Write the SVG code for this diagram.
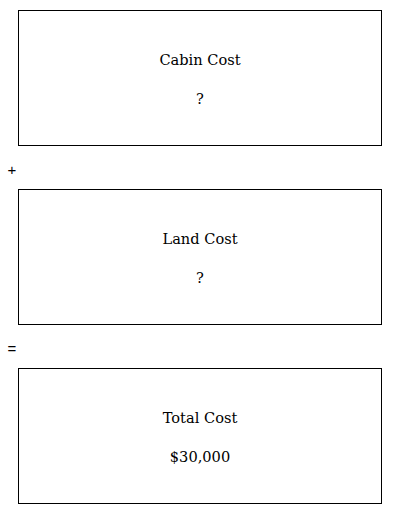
<svg xmlns="http://www.w3.org/2000/svg" width="400" height="514" viewBox="0 0 400 514">
<style>
.box{fill:#fff;stroke:#000;stroke-width:1}
.t{font-family:"DejaVu Serif","Liberation Serif",serif;font-size:14.6px;fill:#000;text-anchor:middle}
.op{font-family:"Liberation Sans","DejaVu Sans",sans-serif;font-size:15px;fill:#000;text-anchor:middle}
</style>
<rect width="400" height="514" fill="#fff"/>
<g id="cabin">
<rect class="box" x="18.5" y="10.5" width="363" height="135"/>
<text class="t" x="200" y="65">Cabin Cost</text>
<text class="t" x="200" y="104">?</text>
</g>
<g id="plus"><text class="op" x="12" y="175">+</text></g>
<g id="land">
<rect class="box" x="18.5" y="189.5" width="363" height="135"/>
<text class="t" x="200" y="244">Land Cost</text>
<text class="t" x="200" y="283">?</text>
</g>
<g id="equals"><text class="op" x="12" y="354">=</text></g>
<g id="total">
<rect class="box" x="18.5" y="368.5" width="363" height="135"/>
<text class="t" x="200" y="423">Total Cost</text>
<text class="t" x="200" y="462">$30,000</text>
</g>
<g id="connectors"></g>
</svg>
